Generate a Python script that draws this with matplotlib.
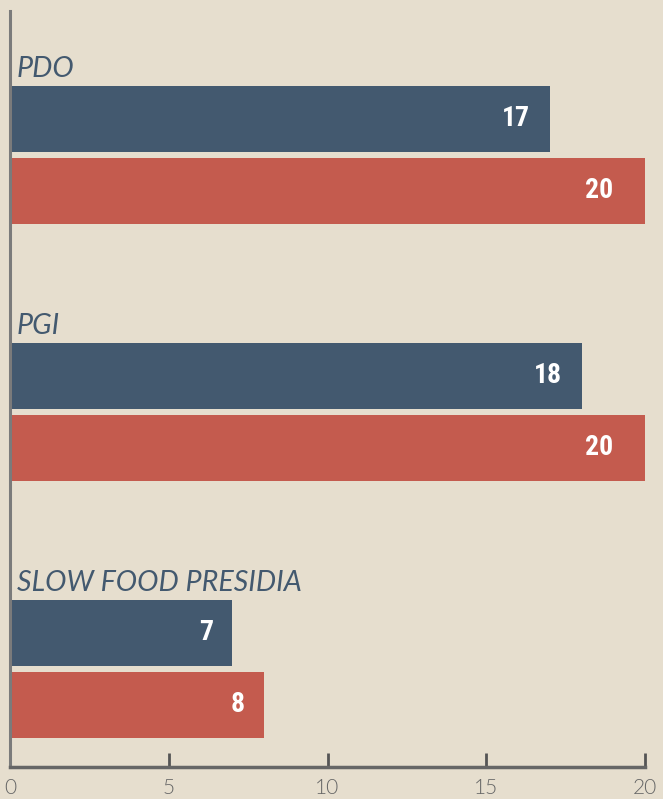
import matplotlib
matplotlib.use("Agg")
import matplotlib.pyplot as plt
import numpy as np

# data
categories = ["PDO", "PGI", "SLOW FOOD PRESIDIA"]
blue_values = [17, 18, 7]
red_values = [20, 20, 8]
x_ticks = [0, 5, 10, 15, 20]

bg = "#e6dece"
blue = "#43596f"
red = "#c45b4e"

fig = plt.figure(figsize=(6.63, 7.99), dpi=100, facecolor=bg)
ax = fig.add_axes([10 / 663, 32 / 799, 635 / 663, 756 / 799])
ax.set_facecolor(bg)

y = np.arange(len(categories))
h = 66 / 257
off = 36 / 257
ax.barh(y - off, blue_values, height=h, color=blue, zorder=2)
ax.barh(y + off, red_values, height=h, color=red, zorder=2)

ax.set_xlim(0, 20)
ax.set_ylim(2.382, -0.560)

narrow = ["Noto Sans Condensed", "DejaVu Sans Condensed", "Liberation Sans Narrow",
          "Roboto Condensed", "Open Sans Condensed", "DejaVu Sans"]
val_font = dict(family=narrow, fontstretch="condensed", fontsize=20,
                fontweight="bold", color="white", ha="right", va="center")


def pad(v):
    # labels on full-width bars sit further in
    return -23 if v >= ax.get_xlim()[1] else -14


for yi, b, r in zip(y, blue_values, red_values):
    ax.annotate(str(b), (b, yi - off), xytext=(pad(b), 0), textcoords="offset points", **val_font)
    ax.annotate(str(r), (r, yi + off), xytext=(pad(r), 0), textcoords="offset points", **val_font)

for yi, name in zip(y, categories):
    ax.annotate(name, (0, yi - off - h / 2), xytext=(5, 3), textcoords="offset points",
                family="Lato", style="italic", fontsize=20.6, color="#43596f",
                ha="left", va="bottom")

for s in ["top", "right"]:
    ax.spines[s].set_visible(False)
ax.spines["left"].set_color("#7b7b7b")
ax.spines["left"].set_linewidth(2.2)
ax.spines["bottom"].set_color("#666666")
ax.spines["bottom"].set_linewidth(2.5)

ax.set_yticks([])
ax.set_xticks(x_ticks)
ax.set_xticklabels([str(t) for t in x_ticks], family="Lato", fontweight=300,
                   fontsize=15, color="#666666")
ax.tick_params(axis="x", direction="in", length=10, width=2, color="#555555", pad=8)

fig.savefig("out.png", dpi=100, facecolor=bg)
